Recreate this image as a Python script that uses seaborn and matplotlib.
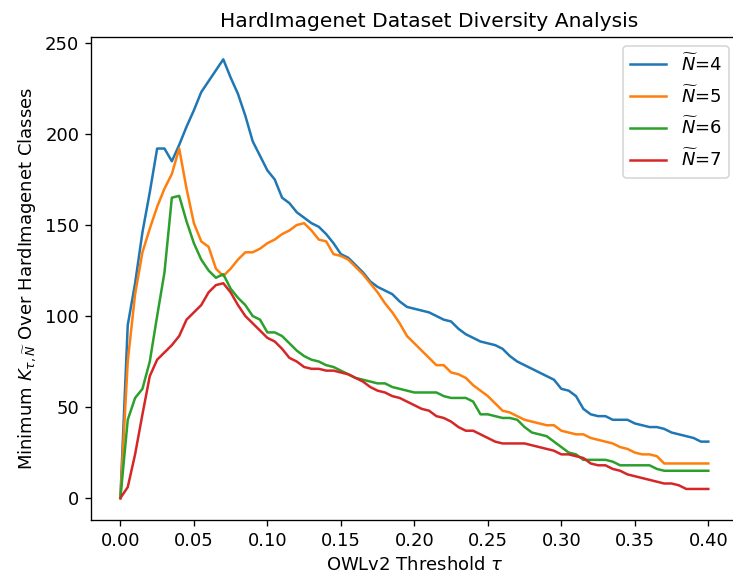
import numpy as np
import pandas as pd
import matplotlib
matplotlib.use("Agg")
import matplotlib.pyplot as plt
import seaborn as sns

thresholds = [0.0, 0.005, 0.01, 0.015, 0.02, 0.025, 0.03, 0.035, 0.04, 0.045,
              0.05, 0.055, 0.06, 0.065, 0.07, 0.075, 0.08, 0.085, 0.09, 0.095,
              0.1, 0.105, 0.11, 0.115, 0.12, 0.125, 0.13, 0.135, 0.14, 0.145,
              0.15, 0.155, 0.16, 0.165, 0.17, 0.175, 0.18, 0.185, 0.19, 0.195,
              0.2, 0.205, 0.21, 0.215, 0.22, 0.225, 0.23, 0.235, 0.24, 0.245,
              0.25, 0.255, 0.26, 0.265, 0.27, 0.275, 0.28, 0.285, 0.29, 0.295,
              0.3, 0.305, 0.31, 0.315, 0.32, 0.325, 0.33, 0.335, 0.34, 0.345,
              0.35, 0.355, 0.36, 0.365, 0.37, 0.375, 0.38, 0.385, 0.39, 0.395, 0.4]

n4 = [0, 95, 118, 146, 168, 192, 192, 185, 194, 204,
      213, 223, 229, 235, 241, 231, 222, 210, 196, 188,
      180, 175, 165, 162, 157, 154, 151, 149, 145, 140,
      134, 132, 128, 124, 119, 116, 114, 112, 108, 105,
      104, 103, 102, 100, 98, 97, 93, 90, 88, 86,
      85, 84, 82, 78, 75, 73, 71, 69, 67, 65,
      60, 59, 56, 49, 46, 45, 45, 43, 43, 43,
      41, 40, 39, 39, 38, 36, 35, 34, 33, 31, 31]

n5 = [0, 75, 112, 135, 148, 160, 170, 178, 192, 170,
      151, 141, 138, 126, 122, 126, 131, 135, 135, 137,
      140, 142, 145, 147, 150, 151, 147, 142, 141, 134,
      133, 131, 127, 123, 118, 113, 107, 102, 96, 89,
      85, 81, 77, 73, 73, 69, 68, 66, 62, 59,
      56, 52, 48, 47, 45, 43, 42, 41, 40, 40,
      37, 36, 35, 35, 33, 32, 31, 30, 28, 27,
      25, 24, 24, 23, 19, 19, 19, 19, 19, 19, 19]

n6 = [0, 43, 55, 60, 75, 100, 124, 165, 166, 152,
      140, 131, 125, 121, 123, 115, 110, 106, 100, 98,
      91, 91, 89, 85, 81, 78, 76, 75, 73, 72,
      70, 68, 66, 65, 64, 63, 63, 61, 60, 59,
      58, 58, 58, 58, 56, 55, 55, 55, 53, 46,
      46, 45, 44, 44, 43, 39, 36, 35, 34, 31,
      28, 25, 24, 21, 21, 21, 21, 20, 18, 18,
      18, 18, 18, 16, 15, 15, 15, 15, 15, 15, 15]

n7 = [0, 6, 24, 46, 67, 76, 80, 84, 89, 98,
      102, 106, 113, 117, 118, 113, 106, 100, 96, 92,
      88, 86, 82, 77, 75, 72, 71, 71, 70, 70,
      69, 68, 66, 64, 61, 59, 58, 56, 55, 53,
      51, 49, 48, 45, 44, 42, 39, 37, 37, 35,
      33, 31, 30, 30, 30, 30, 29, 28, 27, 26,
      24, 24, 23, 22, 19, 18, 18, 16, 15, 13,
      12, 11, 10, 9, 8, 8, 7, 5, 5, 5, 5]

series = [(r'$\widetilde{N}$=4', n4, 'tab:blue'),
          (r'$\widetilde{N}$=5', n5, 'tab:orange'),
          (r'$\widetilde{N}$=6', n6, 'tab:green'),
          (r'$\widetilde{N}$=7', n7, 'tab:red')]

plt.rcParams['font.size'] = 10.8

fig = plt.figure(figsize=(733 / 120, 576 / 120), dpi=120)
ax = fig.add_axes([91 / 733, 56 / 576, (737.7 - 91) / 733, (520 - 37.4) / 576])

for label, vals, color in series:
    df = pd.DataFrame({"tau": thresholds, "k": vals})
    sns.lineplot(data=df, x="tau", y="k", ax=ax, label=label, color=color, linewidth=1.5)

ax.set_title("HardImagenet Dataset Diversity Analysis", fontsize=12.15, x=0.523)
ax.set_xlabel(r"OWLv2 Threshold $\tau$")
ax.set_ylabel(r"Minimum $K_{\tau,\widetilde{N}}$ Over HardImagenet Classes")
ax.set_xticks([0.0, 0.05, 0.1, 0.15, 0.2, 0.25, 0.3, 0.35, 0.4])
ax.set_xticklabels(["0.00", "0.05", "0.10", "0.15", "0.20", "0.25", "0.30", "0.35", "0.40"])
ax.set_yticks([0, 50, 100, 150, 200, 250])
ax.legend(loc="upper right", labelspacing=0.6)

fig.savefig("out.png", dpi=120)
